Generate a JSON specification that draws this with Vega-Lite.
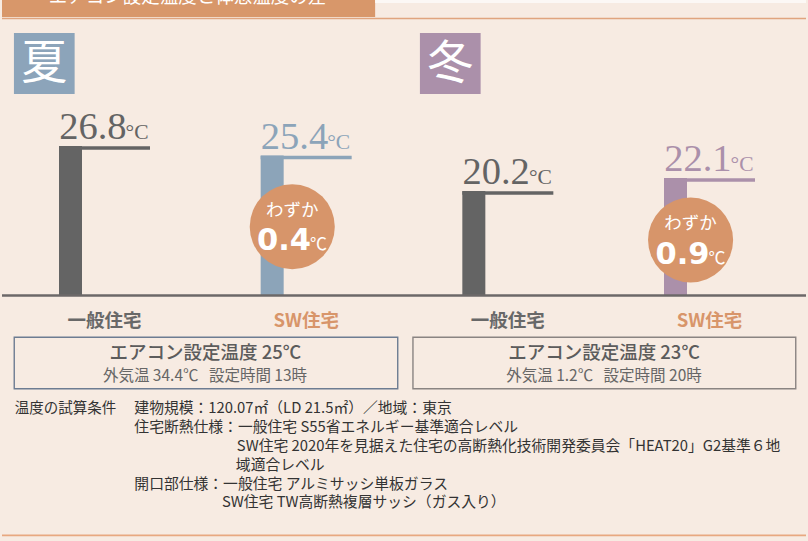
{
  "$schema": "https://vega.github.io/schema/vega-lite/v6.json",
  "width": 808,
  "height": 541,
  "autosize": {"type": "fit", "contains": "padding"},
  "padding": 0,
  "background": "#f7ebe2",
  "config": {"view": {"stroke": null}, "axis": {"disable": true}, "legend": {"disable": true}},
  "datasets": {
    "bars": [
      {"season": "夏", "house": "一般住宅", "cat": "夏・一般住宅", "temp": 26.8, "unit": "°C"},
      {"season": "夏", "house": "SW住宅", "cat": "夏・SW住宅", "temp": 25.4, "unit": "°C"},
      {"season": "冬", "house": "一般住宅", "cat": "冬・一般住宅", "temp": 20.2, "unit": "°C"},
      {"season": "冬", "house": "SW住宅", "cat": "冬・SW住宅", "temp": 22.1, "unit": "°C"}
    ],
    "diff": [
      {"season": "夏", "cat": "夏・SW住宅", "lead": "わずか", "diff": 0.4, "unit": "℃"},
      {"season": "冬", "cat": "冬・SW住宅", "lead": "わずか", "diff": 0.9, "unit": "℃"}
    ]
  },
  "layer": [
    {
      "data": {"name": "bars"},
      "encoding": {
        "x": {"field": "cat", "type": "nominal", "scale": {"type": "point", "domain": ["夏・一般住宅", "夏・SW住宅", "冬・一般住宅", "冬・SW住宅"], "range": [102.5, 707.5], "padding": 0}, "axis": null},
        "y": {"field": "temp", "type": "quantitative", "scale": {"domain": [-31.13, 48.21], "nice": false, "zero": false}, "axis": null}
      },
      "layer": [
        {"mark": {"type": "bar", "width": 23, "xOffset": -34},
         "encoding": {"y2": {"datum": 4.95}, "color": {"field": "cat", "type": "nominal", "scale": {"domain": ["夏・一般住宅", "夏・SW住宅", "冬・一般住宅", "冬・SW住宅"], "range": ["#646464", "#8ca4b9", "#646464", "#ab90aa"]}, "legend": null}}},
        {"mark": {"type": "tick", "size": 91, "thickness": 3.6, "yOffset": 2, "opacity": 1},
         "encoding": {"color": {"field": "cat", "type": "nominal", "legend": null}}},
        {"mark": {"type": "text", "font": "Liberation Serif", "fontSize": 38.5, "align": "right", "baseline": "alphabetic", "dx": 22, "dy": -7},
         "encoding": {"text": {"field": "temp", "type": "quantitative", "format": ".1f"}, "color": {"field": "cat", "type": "nominal", "legend": null}}},
        {"mark": {"type": "text", "font": "Liberation Serif", "fontSize": 21.5, "align": "right", "baseline": "alphabetic", "dx": 44, "dy": -7},
         "encoding": {"text": {"field": "unit"}, "color": {"field": "cat", "type": "nominal", "legend": null}}},
        {"mark": {"type": "text", "font": "Noto Sans CJK JP", "fontWeight": "bold", "fontSize": 18.5, "baseline": "middle", "align": "center"},
         "encoding": {"y": {"datum": 1.13}, "text": {"field": "house"}, "color": {"condition": {"test": "datum.house === 'SW住宅'", "value": "#d8956a"}, "value": "#686868"}}}
      ]
    },
    {
      "data": {"values": [{"k": 1}]},
      "layer": [
        {"mark": {"type": "rect", "color": "#d8976a"},
         "encoding": {
           "x": {"datum": 0, "type": "quantitative", "scale": {"domain": [0, 808], "nice": false, "zero": false}, "axis": null},
           "x2": {"datum": 375},
           "y": {"datum": 0, "type": "quantitative", "scale": {"domain": [0, 541], "nice": false, "zero": false, "reverse": true}, "axis": null},
           "y2": {"datum": 17}}},
        {"mark": {"type": "rect", "color": "#fcf8f5"},
         "encoding": {"x": {"datum": 375}, "x2": {"datum": 808}, "y": {"datum": 0}, "y2": {"datum": 3}}},
        {"mark": {"type": "rule", "color": "#e0a47e", "strokeWidth": 1.6},
         "encoding": {"x": {"datum": 0}, "x2": {"datum": 808}, "y": {"datum": 18.5}}},
        {"mark": {"type": "rule", "color": "#6c6868", "strokeWidth": 2.3},
         "encoding": {"x": {"datum": 0}, "x2": {"datum": 808}, "y": {"datum": 295.5}}},
        {"mark": {"type": "rule", "color": "#e8a880", "strokeWidth": 1.7},
         "encoding": {"x": {"datum": 0}, "x2": {"datum": 808}, "y": {"datum": 535.3}}},
        {"mark": {"type": "rect", "color": "#8ca4ba"},
         "encoding": {"x": {"datum": 12}, "x2": {"datum": 73}, "y": {"datum": 33}, "y2": {"datum": 94}}},
        {"mark": {"type": "rect", "color": "#ab90aa"},
         "encoding": {"x": {"datum": 420}, "x2": {"datum": 481}, "y": {"datum": 33}, "y2": {"datum": 94}}},
        {"data": {"values": [{"t": "夏"}]},
         "mark": {"type": "text", "font": "Noto Sans CJK JP", "fontSize": 46, "color": "#ffffff", "align": "center", "baseline": "middle"},
         "encoding": {"x": {"datum": 42.5}, "y": {"datum": 63.5}, "text": {"field": "t"}}},
        {"data": {"values": [{"t": "冬"}]},
         "mark": {"type": "text", "font": "Noto Sans CJK JP", "fontSize": 46, "color": "#ffffff", "align": "center", "baseline": "middle"},
         "encoding": {"x": {"datum": 450.5}, "y": {"datum": 63.5}, "text": {"field": "t"}}},
        {"data": {"name": "diff"}, "transform": [{"filter": "datum.season === '夏'"}],
         "mark": {"type": "point", "shape": "circle", "filled": true, "size": 7238, "opacity": 1, "color": "#d7956a", "strokeWidth": 0},
         "encoding": {"x": {"datum": 291.7}, "y": {"datum": 226.7}}},
        {"data": {"name": "diff"}, "transform": [{"filter": "datum.season === '夏'"}],
         "mark": {"type": "text", "font": "Noto Sans CJK JP", "fontSize": 17.5, "color": "#ffffff", "align": "center", "baseline": "middle"},
         "encoding": {"x": {"datum": 291.7}, "y": {"datum": 211}, "text": {"field": "lead"}}},
        {"data": {"name": "diff"}, "transform": [{"filter": "datum.season === '夏'"}],
         "mark": {"type": "text", "font": "DejaVu Sans", "fontWeight": "bold", "fontSize": 30.5, "color": "#ffffff", "align": "right", "baseline": "alphabetic"},
         "encoding": {"x": {"datum": 310.5}, "y": {"datum": 250}, "text": {"field": "diff", "type": "quantitative", "format": ".1f"}}},
        {"data": {"name": "diff"}, "transform": [{"filter": "datum.season === '夏'"}],
         "mark": {"type": "text", "font": "Noto Sans CJK JP", "fontSize": 17, "color": "#ffffff", "align": "left", "baseline": "alphabetic"},
         "encoding": {"x": {"datum": 309.5}, "y": {"datum": 250}, "text": {"field": "unit"}}},
        {"data": {"name": "diff"}, "transform": [{"filter": "datum.season === '冬'"}],
         "mark": {"type": "point", "shape": "circle", "filled": true, "size": 7238, "opacity": 1, "color": "#d7956a", "strokeWidth": 0},
         "encoding": {"x": {"datum": 692}, "y": {"datum": 240}}},
        {"data": {"name": "diff"}, "transform": [{"filter": "datum.season === '冬'"}],
         "mark": {"type": "text", "font": "Noto Sans CJK JP", "fontSize": 17.5, "color": "#ffffff", "align": "center", "baseline": "middle"},
         "encoding": {"x": {"datum": 692}, "y": {"datum": 224.3}, "text": {"field": "lead"}}},
        {"data": {"name": "diff"}, "transform": [{"filter": "datum.season === '冬'"}],
         "mark": {"type": "text", "font": "DejaVu Sans", "fontWeight": "bold", "fontSize": 30.5, "color": "#ffffff", "align": "right", "baseline": "alphabetic"},
         "encoding": {"x": {"datum": 711}, "y": {"datum": 264}, "text": {"field": "diff", "type": "quantitative", "format": ".1f"}}},
        {"data": {"name": "diff"}, "transform": [{"filter": "datum.season === '冬'"}],
         "mark": {"type": "text", "font": "Noto Sans CJK JP", "fontSize": 17, "color": "#ffffff", "align": "left", "baseline": "alphabetic"},
         "encoding": {"x": {"datum": 710}, "y": {"datum": 264}, "text": {"field": "unit"}}},
        {"mark": {"type": "rect", "fillOpacity": 0, "stroke": "#6d7c92", "strokeWidth": 1.4},
         "encoding": {"x": {"datum": 12.3}, "x2": {"datum": 397.7}, "y": {"datum": 337.3}, "y2": {"datum": 388.7}}},
        {"mark": {"type": "rect", "fillOpacity": 0, "stroke": "#8a8482", "strokeWidth": 1.4},
         "encoding": {"x": {"datum": 413}, "x2": {"datum": 797.7}, "y": {"datum": 337.3}, "y2": {"datum": 388.7}}},
        {"data": {"values": [{"t": "エアコン設定温度 25℃"}]},
         "mark": {"type": "text", "font": "Noto Sans CJK JP", "fontWeight": 500, "fontSize": 18.5, "color": "#5c5c5c", "align": "center", "baseline": "middle"},
         "encoding": {"x": {"datum": 204.5}, "y": {"datum": 352.5}, "text": {"field": "t"}}},
        {"data": {"values": [{"t": "外気温 34.4℃\u00a0\u00a0 設定時間 13時"}]},
         "mark": {"type": "text", "font": "Noto Sans CJK JP", "fontSize": 15.5, "color": "#666666", "align": "center", "baseline": "middle"},
         "encoding": {"x": {"datum": 204}, "y": {"datum": 375.5}, "text": {"field": "t"}}},
        {"data": {"values": [{"t": "エアコン設定温度 23℃"}]},
         "mark": {"type": "text", "font": "Noto Sans CJK JP", "fontWeight": 500, "fontSize": 18.5, "color": "#5c5c5c", "align": "center", "baseline": "middle"},
         "encoding": {"x": {"datum": 605}, "y": {"datum": 352.5}, "text": {"field": "t"}}},
        {"data": {"values": [{"t": "外気温 1.2℃\u00a0\u00a0 設定時間 20時"}]},
         "mark": {"type": "text", "font": "Noto Sans CJK JP", "fontSize": 15.5, "color": "#666666", "align": "center", "baseline": "middle"},
         "encoding": {"x": {"datum": 605}, "y": {"datum": 375.5}, "text": {"field": "t"}}},
        {"data": {"values": [{"t": "温度の試算条件"}]},
         "mark": {"type": "text", "font": "Noto Sans CJK JP", "fontSize": 14.5, "color": "#333333", "align": "left", "baseline": "middle"},
         "encoding": {"x": {"datum": 12.7}, "y": {"datum": 409.2}, "text": {"field": "t"}}},
        {"data": {"values": [{"t": "建物規模：120.07㎡（LD 21.5㎡）／地域：東京"}]},
         "mark": {"type": "text", "font": "Noto Sans CJK JP", "fontSize": 14.8, "color": "#333333", "align": "left", "baseline": "middle"},
         "encoding": {"x": {"datum": 133}, "y": {"datum": 409.2}, "text": {"field": "t"}}},
        {"data": {"values": [{"t": "住宅断熱仕様：一般住宅 S55省エネルギー基準適合レベル"}]},
         "mark": {"type": "text", "font": "Noto Sans CJK JP", "fontSize": 14.8, "color": "#333333", "align": "left", "baseline": "middle"},
         "encoding": {"x": {"datum": 133}, "y": {"datum": 427.5}, "text": {"field": "t"}}},
        {"data": {"values": [{"t": "SW住宅 2020年を見据えた住宅の高断熱化技術開発委員会「HEAT20」G2基準６地"}]},
         "mark": {"type": "text", "font": "Noto Sans CJK JP", "fontSize": 14.8, "color": "#333333", "align": "left", "baseline": "middle"},
         "encoding": {"x": {"datum": 236}, "y": {"datum": 446.7}, "text": {"field": "t"}}},
        {"data": {"values": [{"t": "域適合レベル"}]},
         "mark": {"type": "text", "font": "Noto Sans CJK JP", "fontSize": 14.8, "color": "#333333", "align": "left", "baseline": "middle"},
         "encoding": {"x": {"datum": 235}, "y": {"datum": 466}, "text": {"field": "t"}}},
        {"data": {"values": [{"t": "開口部仕様：一般住宅 アルミサッシ単板ガラス"}]},
         "mark": {"type": "text", "font": "Noto Sans CJK JP", "fontSize": 14.8, "color": "#333333", "align": "left", "baseline": "middle"},
         "encoding": {"x": {"datum": 133}, "y": {"datum": 485}, "text": {"field": "t"}}},
        {"data": {"values": [{"t": "SW住宅 TW高断熱複層サッシ（ガス入り）"}]},
         "mark": {"type": "text", "font": "Noto Sans CJK JP", "fontSize": 14.8, "color": "#333333", "align": "left", "baseline": "middle"},
         "encoding": {"x": {"datum": 221}, "y": {"datum": 503.3}, "text": {"field": "t"}}},
        {"data": {"values": [{"t": "エアコン設定温度と体感温度の差"}]},
         "mark": {"type": "text", "clip": true, "font": "Noto Sans CJK JP", "fontSize": 18.5, "color": "#ffffff", "align": "left", "baseline": "alphabetic"},
         "encoding": {"x": {"datum": 47}, "y": {"datum": 3}, "text": {"field": "t"}}}
      ]
    }
  ],
  "resolve": {"scale": {"x": "independent", "y": "independent", "color": "independent"}}
}
